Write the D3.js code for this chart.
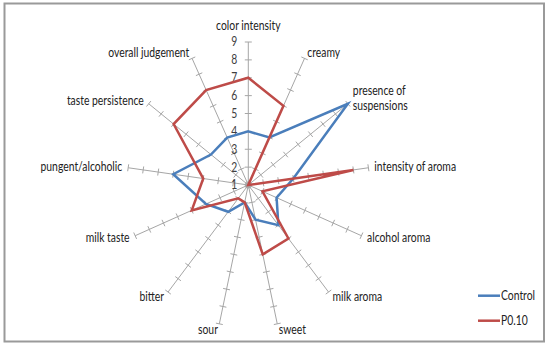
<!DOCTYPE html>
<html>
  <head>
    <meta charset="utf-8">
    <script src="https://d3js.org/d3.v7.min.js"></script>
    <title>Radar chart - Control vs P0.10</title>
    <style>
      body { margin: 0px; background: #fff; }
      text {
        font-family: Lato, "Open Sans", sans-serif;
        font-size: 12.5px;
        fill: #222;
      }
      .axis line { stroke: #a6a6a6; stroke-width: 1; }
      .series { fill: none; stroke-width: 2.5; stroke-linejoin: miter; }
    </style>
  </head>
  <body>
    <svg width="550" height="350"></svg>
    <script>
      // chart data
      const categories = ['color intensity', 'creamy', 'presence of suspensions', 'intensity of aroma',
        'alcohol aroma', 'milk aroma', 'sweet', 'sour', 'bitter', 'milk taste',
        'pungent/alcoholic', 'taste persistence', 'overall judgement'];
      const control = [4, 4, 9, 4, 3, 4, 3, 2, 3, 4, 6, 4, 4];
      const p010 = [7, 6, 1, 8, 2, 5, 5, 2, 2, 5, 4, 7, 7];
      const tickValues = [1, 2, 3, 4, 5, 6, 7, 8, 9];
      const seriesNames = ['Control', 'P0.10'];
      const colors = ['#4a7ebb', '#be4b48'];

      const svg = d3.select('svg');
      const cx = 248.3, cy = 185;
      // the original picture is squashed horizontally (plot and text alike)
      const rx = 121, ry = 143;
      const squash = 0.83;

      svg.append('rect')
        .attr('x', 4.5).attr('y', 3.5)
        .attr('width', 539.5).attr('height', 338)
        .attr('fill', 'none')
        .attr('stroke', '#9a9a9a')
        .attr('stroke-width', 2);

      const g = svg.append('g').attr('transform', `translate(${cx},${cy})`);

      const n = categories.length;
      const angle = d3.scaleLinear().domain([0, n]).range([0, 2 * Math.PI]);
      const rScale = d3.scaleLinear().domain([1, 9]).range([0, 1]);

      const pt = (i, v) => {
        const a = angle(i), f = rScale(v);
        return [rx * f * Math.sin(a), -ry * f * Math.cos(a)];
      };

      const place = (x, y) => `translate(${x},${y}) scale(${squash},1)`;

      // axes with tick marks
      const axisG = g.append('g').attr('class', 'axis');
      categories.forEach((c, i) => {
        const end = pt(i, 9);
        axisG.append('line')
          .attr('x1', 0).attr('y1', 0)
          .attr('x2', end[0]).attr('y2', end[1]);
        const len = Math.hypot(end[0], end[1]);
        const ux = end[0] / len, uy = end[1] / len;
        tickValues.forEach(v => {
          const p = pt(i, v);
          axisG.append('line')
            .attr('x1', p[0] - uy * 3.5).attr('y1', p[1] + ux * 3.5)
            .attr('x2', p[0] + uy * 3.5).attr('y2', p[1] - ux * 3.5);
        });
      });

      // value labels along the top axis
      g.selectAll('.tick-label').data(tickValues)
        .enter().append('text')
          .attr('class', 'tick-label')
          .attr('transform', d => place(-11, pt(0, d)[1]))
          .attr('dy', '0.35em')
          .attr('text-anchor', 'end')
          .style('fill', '#404040')
          .text(d => d);

      // category labels
      categories.forEach((c, i) => {
        const a = angle(i);
        const end = pt(i, 9);
        const s = Math.sin(a), co = Math.cos(a);
        const x = end[0] + 6 * s;
        let y = end[1] - 6 * co;
        if (i === 0) y -= 10;
        const anchor = s > 0.1 ? 'start' : (s < -0.1 ? 'end' : 'middle');
        const t = g.append('text')
          .attr('transform', place(x, y))
          .attr('text-anchor', anchor);
        if (c === 'presence of suspensions') {
          t.append('tspan').attr('x', 0).attr('dy', '-0.45em').text('presence of');
          t.append('tspan').attr('x', 0).attr('dy', '1.25em').text('suspensions');
        } else {
          t.attr('dy', '0.35em').text(c);
        }
      });

      // series
      const line = d3.line()
        .x((d, i) => pt(i, d)[0])
        .y((d, i) => pt(i, d)[1])
        .curve(d3.curveLinearClosed);

      g.selectAll('.series').data([control, p010])
        .enter().append('path')
          .attr('class', 'series')
          .attr('stroke', (d, i) => colors[i])
          .attr('d', line);

      // legend
      const legend = svg.append('g');
      seriesNames.forEach((name, i) => {
        const y = 295.7 + i * 25;
        legend.append('line')
          .attr('x1', 478).attr('x2', 500)
          .attr('y1', y).attr('y2', y)
          .attr('stroke', colors[i])
          .attr('stroke-width', 2.5);
        legend.append('text')
          .attr('transform', place(501, y))
          .attr('dy', '0.35em')
          .text(name);
      });
    </script>
  </body>
</html>
